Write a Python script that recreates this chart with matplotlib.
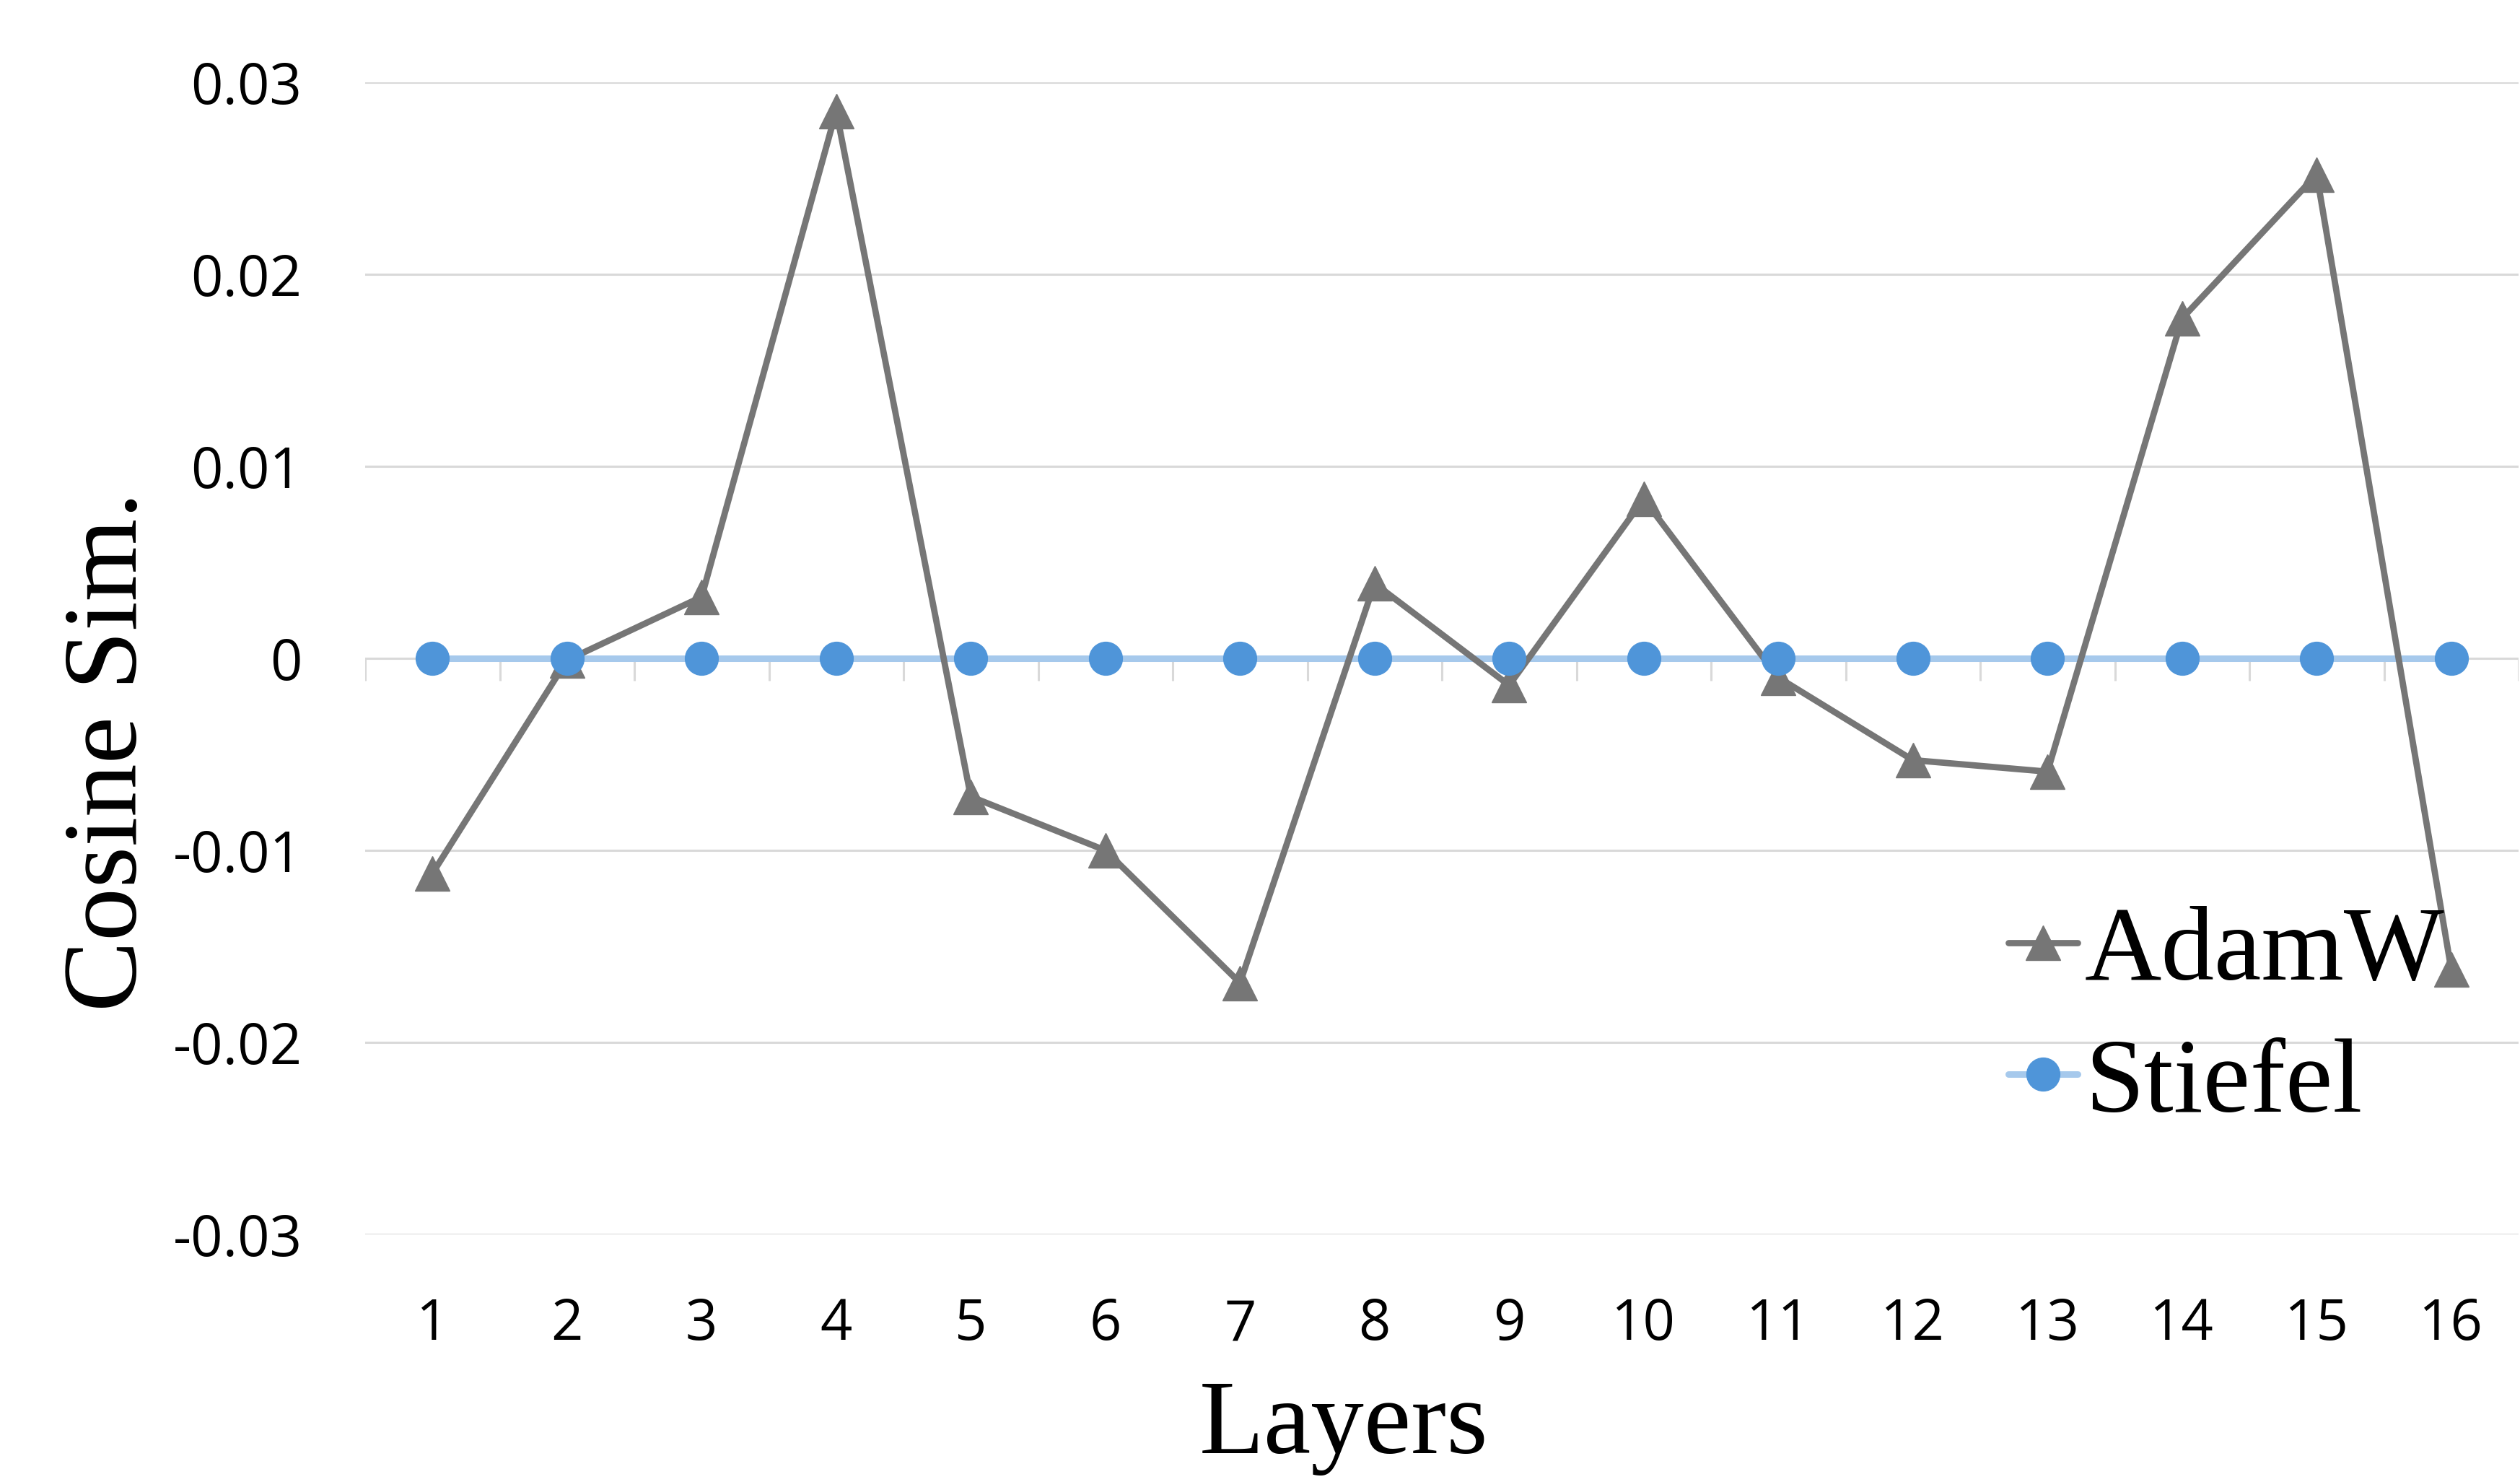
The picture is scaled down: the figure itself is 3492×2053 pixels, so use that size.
import numpy as np
import matplotlib
matplotlib.use("Agg")
import matplotlib.pyplot as plt
from matplotlib.lines import Line2D

layers = list(range(1, 17))
adamw = [-0.0112, -0.0001, 0.0032, 0.0285, -0.0072, -0.0100, -0.0169, 0.0039,
         -0.0014, 0.0083, -0.0010, -0.0053, -0.0059, 0.0177, 0.0252, -0.0162]
stiefel = [0.0] * 16
yticks = [-0.03, -0.02, -0.01, 0, 0.01, 0.02, 0.03]
ytick_labels = ["-0.03", "-0.02", "-0.01", "0", "0.01", "0.02", "0.03"]

gray = "#767676"
blue_line = "#A6C9EC"
blue_dot = "#4F95D9"
grid_c = "#D9D9D9"
tick_font = "Open Sans"
serif = "Liberation Serif"

fig = plt.figure(figsize=(34.92, 20.53), dpi=100)
ax = fig.add_axes([506 / 3492, 1 - 1710 / 2053, 2984 / 3492, 1596 / 2053])

x = np.array(layers)
# z-order as in the original: blue line < gray line < triangles < circles
ax.plot(x, stiefel, color=blue_line, lw=6.5, zorder=2, solid_capstyle="round")
ax.plot(x, adamw, color=gray, lw=6.3, zorder=3)
ax.plot(x, adamw, ls="none", marker="^", ms=35, color=gray, zorder=4)
ax.plot(x, stiefel, ls="none", marker="o", ms=33, color=blue_dot, zorder=5)

ax.set_xlim(0.5, 16.5)
ax.set_ylim(-0.03, 0.03)
ax.set_yticks(yticks)
ax.set_yticklabels(ytick_labels, fontsize=56, family=tick_font)
ax.set_xticks(x)
ax.set_xticklabels([str(v) for v in layers], fontsize=56, family=tick_font)
ax.tick_params(axis="y", length=0, pad=63)
ax.tick_params(axis="x", length=0, pad=62)
ax.grid(axis="y", color=grid_c, lw=2.2, zorder=0)
for s in ax.spines.values():
    s.set_visible(False)

# category boundary ticks hanging from the zero line
bounds = np.arange(0.5, 17, 1.0)
ax.vlines(bounds, 0.5 - 31 / 1596, 0.5, transform=ax.get_xaxis_transform(),
          color=grid_c, lw=2.2, zorder=1)

fig.text(1862 / 3492, 1 - 2013 / 2053, "Layers", family=serif, fontsize=106,
         ha="center", va="baseline")
fig.text(0.063, 1 - 1041 / 2053, "Cosine Sim.", family=serif, fontsize=106,
         rotation=90, ha="right", va="center")

handles = [
    Line2D([], [], color=gray, lw=6.3, marker="^", ms=35, solid_capstyle="round"),
    Line2D([], [], color=blue_line, lw=6.5, marker="o", ms=33,
           markerfacecolor=blue_dot, markeredgecolor=blue_dot, solid_capstyle="round"),
]
fig.legend(handles, ["AdamW", "Stiefel"], loc="upper left",
           bbox_to_anchor=(2783 / 3492, 1 - 1254 / 2053), frameon=False,
           prop={"family": serif, "size": 106}, handlelength=0.65,
           handletextpad=0.07, borderpad=0, borderaxespad=0, labelspacing=0.33)

fig.savefig("out.png", dpi=100)
plt.close(fig)
